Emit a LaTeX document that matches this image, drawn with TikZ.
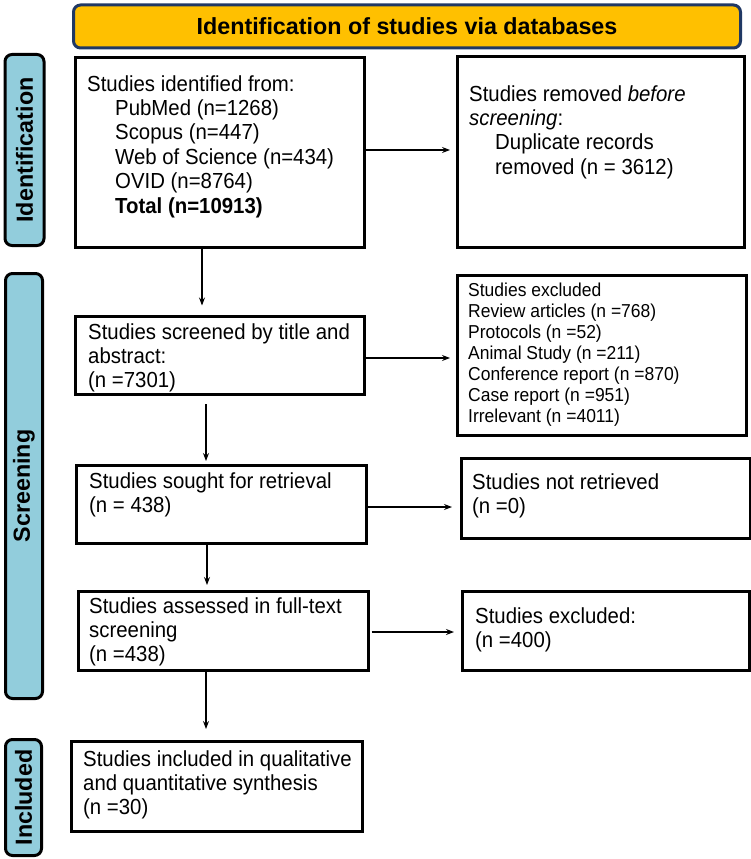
\documentclass[tikz,border=0pt]{standalone}
\usepackage{fontspec}
\setmainfont{Liberation Sans}
\newfontfamily\narfont[FakeStretch=0.935]{Liberation Sans}
\usetikzlibrary{arrows.meta}
\definecolor{hdrfill}{HTML}{FFC000}
\definecolor{hdrline}{HTML}{203864}
\definecolor{labfill}{HTML}{92CDDC}
\begin{document}
\begin{tikzpicture}[x=1pt,y=-1pt,
  box/.style={draw=black, line width=3pt, inner sep=0pt, anchor=north west},
  txt/.style={anchor=north west, inner sep=0pt, align=left, font=\narfont\fontsize{21.8}{24.4}\selectfont},
  smalltxt/.style={anchor=north west, inner sep=0pt, align=left, font=\narfont\fontsize{18.7}{21}\selectfont},
  sidelab/.style={draw=black, line width=3pt, fill=labfill, rounded corners=7pt, rotate=90, inner sep=0pt, font=\bfseries\fontsize{23.3}{28}\selectfont},
  arr/.style={-{Stealth[length=8pt,width=6pt]}, line width=1.1pt}
]
\useasboundingbox (0,0) rectangle (751,859);

% header
\node[draw=hdrline, line width=3pt, fill=hdrfill, rounded corners=7pt,
      minimum width=667pt, minimum height=43pt, inner sep=0pt,
      font=\bfseries\fontsize{23.3}{28}\selectfont] (hdr) at (407,26.5)
      {Identification of studies via databases};

% side labels
\node[sidelab, minimum width=191pt, minimum height=39pt] (lid) at (24.5,150) {Identification};
\node[sidelab, minimum width=425pt, minimum height=37pt] (lsc) at (24,486) {Screening};
\node[sidelab, minimum width=116pt, minimum height=36pt] (lin) at (23.5,797.5) {Included};

% boxes
\node[box, minimum width=289pt, minimum height=189pt] (b1) at (73.5,56.5) {};
\node[box, minimum width=287pt, minimum height=190pt] (b2) at (455.5,55.5) {};
\node[box, minimum width=289pt, minimum height=78pt] (b3) at (73.5,314.5) {};
\node[box, minimum width=289pt, minimum height=160pt] (b4) at (455.5,273.5) {};
\node[box, minimum width=290pt, minimum height=78pt] (b5) at (74.5,463.5) {};
\node[box, minimum width=289pt, minimum height=80pt] (b6) at (459.5,456.5) {};
\node[box, minimum width=290pt, minimum height=79pt] (b7) at (76.5,589.5) {};
\node[box, minimum width=287pt, minimum height=79pt] (b8) at (460.5,589.5) {};
\node[box, minimum width=291pt, minimum height=90pt] (b9) at (69.5,739.5) {};

% texts
\node[txt] (t1) at (87,73.9) {\strut Studies identified from:\\
  \hspace*{28pt}PubMed (n=1268)\\
  \hspace*{28pt}Scopus (n=447)\\
  \hspace*{28pt}Web of Science (n=434)\\
  \hspace*{28pt}OVID (n=8764)\\
  \hspace*{28pt}\textbf{Total (n=10913)}};
\node[txt] (t2) at (469,83.9) {\strut Studies removed \textit{before}\\
  \textit{screening}:\\
  \hspace*{26pt}Duplicate records\\
  \hspace*{26pt}removed (n = 3612)};
\node[txt] (t3) at (88,321.9) {\strut Studies screened by title and\\abstract:\\(n =7301)};
\node[smalltxt] (t4) at (468,281.3) {\strut Studies excluded\\
  Review articles (n =768)\\
  Protocols (n =52)\\
  Animal Study (n =211)\\
  Conference report (n =870)\\
  Case report (n =951)\\
  Irrelevant (n =4011)};
\node[txt] (t5) at (89,470.9) {\strut Studies sought for retrieval\\(n = 438)};
\node[txt] (t6) at (472,471.9) {\strut Studies not retrieved\\(n =0)};
\node[txt] (t7) at (89,595.9) {\strut Studies assessed in full-text\\screening\\(n =438)};
\node[txt] (t8) at (475,605.9) {\strut Studies excluded:\\(n =400)};
\node[txt] (t9) at (83,748.9) {\strut Studies included in qualitative\\and quantitative synthesis\\(n =30)};

% connector guides
\coordinate (xa) at (202,0);
\coordinate (xb) at (206,0);
\coordinate (xc) at (207,0);
\coordinate (ya) at (0,150);
\coordinate (yb) at (0,358);
\coordinate (yc) at (0,507);
\coordinate (yd) at (0,632);

% connectors
\draw[arr, shorten >=9pt] (b1.south -| xa) -- (b3.north -| xa);
\draw[arr, shorten >=5.5pt] (b1.east |- ya) -- (b2.west |- ya);
\draw[arr, shorten >=5.5pt] (b3.east |- yb) -- (b4.west |- yb);
\draw[arr, shorten <=8.5pt, shorten >=2.5pt] (b3.south -| xb) -- (b5.north -| xb);
\draw[arr, shorten >=7.5pt] (b5.east |- yc) -- (b6.west |- yc);
\draw[arr, shorten >=4.5pt] (b5.south -| xc) -- (b7.north -| xc);
\draw[arr, shorten <=2pt, shorten >=6.5pt] (b7.east |- yd) -- (b8.west |- yd);
\draw[arr, shorten >=10.5pt] (b7.south -| xb) -- (b9.north -| xb);
\end{tikzpicture}
\end{document}
